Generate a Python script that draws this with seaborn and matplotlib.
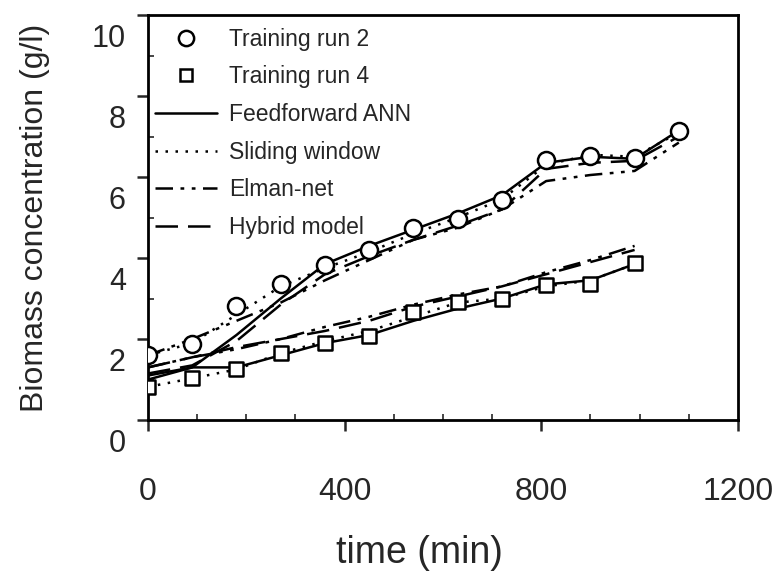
import matplotlib
matplotlib.use("Agg")
import matplotlib.pyplot as plt
import matplotlib.transforms as mtransforms
from matplotlib.lines import Line2D
from matplotlib.ticker import MultipleLocator
import seaborn as sns

# ── data ───────────────────────────────────────────────────────
t_run2 = [0, 90, 180, 270, 360, 450, 540, 630, 720, 810, 900, 990, 1080]
run2 = [1.60, 1.88, 2.81, 3.37, 3.83, 4.21, 4.73, 4.97, 5.43, 6.42, 6.52, 6.46, 7.14]
ff_run2 = [1.10, 1.30, 2.10, 3.00, 3.85, 4.30, 4.70, 5.10, 5.55, 6.35, 6.50, 6.45, 7.15]
sw_run2 = [1.60, 1.90, 2.60, 3.30, 3.75, 4.15, 4.60, 5.00, 5.45, 6.30, 6.55, 6.50, 7.10]
el_run2 = [1.60, 2.00, 2.45, 2.90, 3.45, 3.95, 4.45, 4.75, 5.20, 5.90, 6.05, 6.15, 6.85]
hy_run2 = [1.15, 1.35, 1.95, 2.85, 3.60, 4.05, 4.45, 4.80, 5.20, 6.20, 6.35, 6.40, 7.00]

t_run4 = [0, 90, 180, 270, 360, 450, 540, 630, 720, 810, 900, 990]
run4 = [0.82, 1.03, 1.25, 1.65, 1.91, 2.07, 2.67, 2.92, 2.98, 3.33, 3.37, 3.88]
ff_run4 = [1.00, 1.30, 1.30, 1.60, 1.90, 2.10, 2.45, 2.75, 3.00, 3.35, 3.45, 3.85]
sw_run4 = [0.82, 1.03, 1.25, 1.65, 1.95, 2.20, 2.55, 2.90, 3.00, 3.30, 3.45, 3.85]
el_run4 = [1.30, 1.55, 1.75, 2.00, 2.30, 2.55, 2.85, 3.10, 3.30, 3.65, 3.95, 4.30]
hy_run4 = [1.30, 1.55, 1.80, 2.00, 2.20, 2.45, 2.80, 3.05, 3.30, 3.60, 3.90, 4.20]

model_names = ["Feedforward ANN", "Sliding window", "Elman-net", "Hybrid model"]
model_styles = ["-", (0, (1, 3)), (0, (7, 3, 1.5, 3, 1.5, 3)), (0, (9, 4))]

sns.set_style("white")
plt.rcParams["font.family"] = ["Liberation Sans", "DejaVu Sans"]

fig = plt.figure(figsize=(7.73, 5.77), dpi=100)
ax = fig.add_axes([0.1915, 0.272, 0.763, 0.702])

# model curves
for t, curves in [(t_run2, [ff_run2, sw_run2, el_run2, hy_run2]),
                  (t_run4, [ff_run4, sw_run4, el_run4, hy_run4])]:
    for vals, ls in zip(curves, model_styles):
        sns.lineplot(x=t, y=vals, ax=ax, color="black", linewidth=1.8,
                     linestyle=ls, legend=False)

# measured points
sns.scatterplot(x=t_run2, y=run2, ax=ax, marker="o", s=150,
                facecolor="white", edgecolor="black", linewidth=1.8, zorder=5)
sns.scatterplot(x=t_run4, y=run4, ax=ax, marker="s", s=95,
                facecolor="white", edgecolor="black", linewidth=1.8, zorder=5)

ax.set_xlim(0, 1200)
ax.set_ylim(0, 10)
ax.set_xticks([0, 400, 800, 1200])
ax.set_yticks([0, 2, 4, 6, 8, 10])
ax.xaxis.set_minor_locator(MultipleLocator(100))
ax.yaxis.set_minor_locator(MultipleLocator(1))
ax.tick_params(axis="x", which="major", direction="out", length=8, width=1.8,
               pad=33, labelsize=23)
ax.tick_params(axis="y", which="major", direction="out", length=8, width=1.8,
               pad=8, labelsize=22)
ax.tick_params(which="minor", direction="in", length=4, width=1.2)
ax.tick_params(axis="both", which="both", left=True, bottom=True)

for sp in ax.spines.values():
    sp.set_visible(True)
    sp.set_color("black")
    sp.set_linewidth(2)

# tick labels on the scan sit a little lower than their tick marks
offset = mtransforms.ScaledTranslation(0, -20 / 100, fig.dpi_scale_trans)
for label in ax.yaxis.get_majorticklabels():
    label.set_transform(label.get_transform() + offset)

ax.set_xlabel("time (min)", fontsize=27, labelpad=20)
ax.xaxis.label.set_x(0.46)
ax.set_ylabel("Biomass concentration (g/l)", fontsize=23, labelpad=30)

handles = [
    Line2D([], [], marker="o", linestyle="none", markersize=11,
           markerfacecolor="white", markeredgecolor="black", markeredgewidth=1.8),
    Line2D([], [], marker="s", linestyle="none", markersize=9,
           markerfacecolor="white", markeredgecolor="black", markeredgewidth=1.8),
]
for ls in model_styles:
    handles.append(Line2D([], [], color="black", linewidth=1.8, linestyle=ls))
labels = ["Training run 2", "Training run 4"] + model_names

ax.legend(handles, labels, loc="upper left", bbox_to_anchor=(-0.01, 1.0),
          frameon=False, fontsize=16.5, handlelength=2.7, handletextpad=0.55,
          labelspacing=0.64, borderaxespad=0.15)

plt.savefig("out.png", dpi=100)
